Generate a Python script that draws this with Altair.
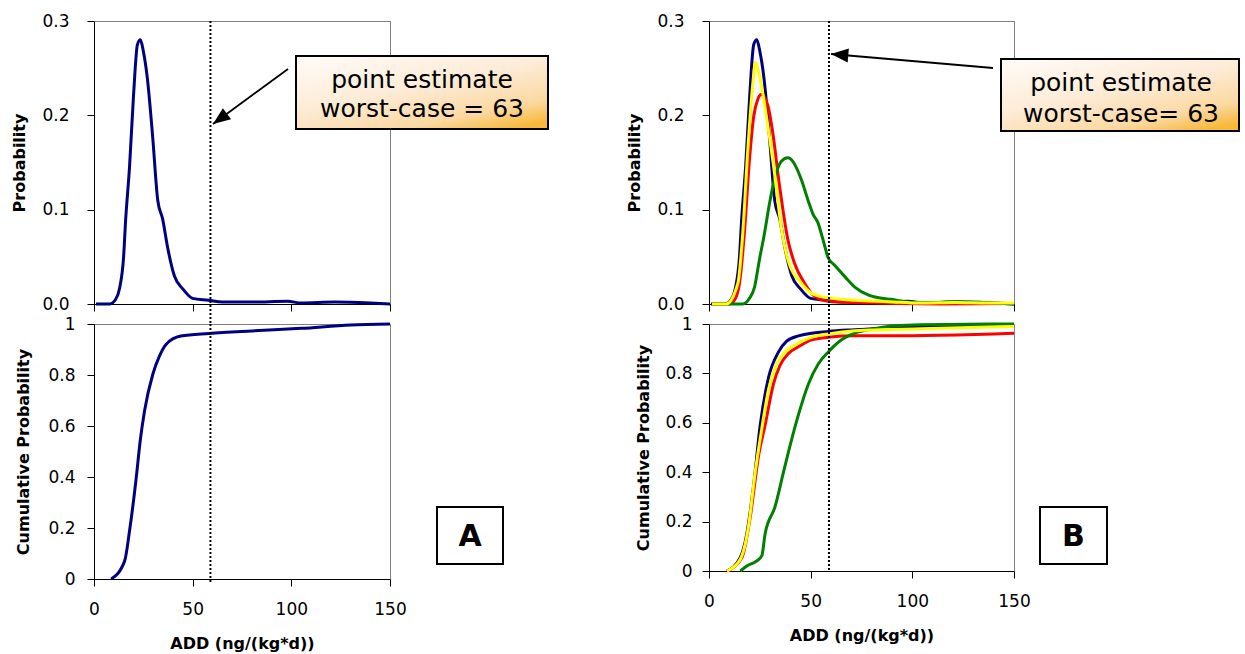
import altair as alt
import pandas as pd

# ---------------- data ----------------
X_TICKS = [0, 50, 100, 150]
PROB_TICKS = [0, 0.1, 0.2, 0.3]
CUM_TICKS = [0, 0.2, 0.4, 0.6, 0.8, 1]
POINT_ESTIMATE_X = 59
X_TITLE = "ADD (ng/(kg*d))"
BOX_LINE1 = "point estimate"
BOX_LINE2_A = "worst-case = 63"
BOX_LINE2_B = "worst-case= 63"

# base case (navy) probability density
navy_prob_x = [1, 8, 11, 13, 15, 16, 18, 20, 22, 23.5, 25, 27, 29.7, 32.3, 34.8, 37.3, 40.7, 45, 50, 58, 65, 80, 98, 105, 122, 140, 150]
navy_prob_y = [0, 0, 0.005, 0.017, 0.05, 0.088, 0.145, 0.22, 0.275, 0.28, 0.268, 0.24, 0.178, 0.11, 0.09, 0.06, 0.03, 0.016, 0.006, 0.004, 0.002, 0.002, 0.003, 0.001, 0.002, 0.001, 0]

# base case cumulative (panel A)
navy_cumA_x = [8.7, 15.5, 18, 21.4, 23.4, 25.6, 29.8, 33.2, 36.5, 44, 58.4, 80, 105, 130, 150]
navy_cumA_y = [0, 0.07, 0.188, 0.397, 0.541, 0.659, 0.803, 0.875, 0.92, 0.953, 0.963, 0.973, 0.983, 0.996, 1.0]

# panel B probability densities
yellow_prob_x = [1.5, 8.4, 14.2, 16.6, 19.1, 21.6, 22.8, 24.8, 29, 32.2, 35.5, 38.8, 45.4, 52, 58.6, 71.7, 88.2, 104.6, 121, 137.5, 150]
yellow_prob_y = [0, 0, 0.022, 0.075, 0.164, 0.235, 0.256, 0.242, 0.188, 0.139, 0.082, 0.047, 0.022, 0.0096, 0.0067, 0.004, 0.0025, 0.001, 0.0015, 0.001, 0.001]
red_prob_x = [1.5, 10, 12.5, 15, 17.4, 19.9, 22, 24, 25.7, 29, 31.4, 34.7, 38.8, 42.1, 47, 52, 58.6, 71.7, 114.5, 150]
red_prob_y = [0, 0, 0.004, 0.022, 0.075, 0.153, 0.199, 0.217, 0.222, 0.21, 0.181, 0.125, 0.068, 0.043, 0.022, 0.008, 0.003, 0.0015, 0, 0.0005]
green_prob_x = [1.5, 10.9, 16.6, 19.9, 22.4, 24.8, 27.3, 29.8, 32.2, 35.5, 38.8, 41.3, 45.4, 48.7, 51.2, 53.6, 56.1, 58.6, 61.8, 66.8, 71.7, 78.3, 84.9, 89.8, 96.4, 112.8, 121, 150]
green_prob_y = [0, 0, 0, 0.006, 0.018, 0.047, 0.075, 0.107, 0.132, 0.151, 0.155, 0.151, 0.132, 0.11, 0.095, 0.086, 0.068, 0.049, 0.041, 0.029, 0.018, 0.0096, 0.006, 0.005, 0.0025, 0.0015, 0.0025, 0]

# panel B cumulative
navy_cumB_x = [8.8, 15.4, 18.6, 21.9, 25.2, 29.3, 34.2, 38.2, 44, 58.7, 71.7, 104.4, 150]
navy_cumB_y = [0, 0.055, 0.151, 0.344, 0.591, 0.784, 0.887, 0.931, 0.952, 0.97, 0.977, 0.988, 0.997]
yellow_cum_x = [8.8, 15.4, 19.4, 22.7, 26, 29.3, 33.3, 37.4, 42.3, 48.9, 58.7, 71.7, 104.4, 150]
yellow_cum_y = [0, 0.048, 0.179, 0.399, 0.578, 0.736, 0.839, 0.887, 0.915, 0.942, 0.96, 0.973, 0.981, 0.99]
red_cum_x = [8.8, 16.2, 20.3, 24.4, 27.6, 31.7, 34.9, 39, 44, 50.5, 58.7, 71.7, 88.1, 150]
red_cum_y = [0, 0.055, 0.22, 0.468, 0.591, 0.757, 0.832, 0.88, 0.908, 0.936, 0.946, 0.952, 0.952, 0.963]
green_cum_x = [15.4, 18.6, 23.5, 26, 27.6, 32.5, 36.6, 39.9, 44, 48.9, 53.8, 58.7, 65.2, 71.7, 81.5, 91.3, 104.4, 150]
green_cum_y = [0, 0.02, 0.041, 0.062, 0.151, 0.261, 0.399, 0.509, 0.633, 0.757, 0.839, 0.887, 0.936, 0.963, 0.981, 0.993, 0.997, 1.0]

# ---------------- styling ----------------
FONT = "DejaVu Sans"
NAVY, RED, YELLOW, GREEN = "#000080", "#FF0000", "#FFFF00", "#008000"
WA, WB = 296, 305
H_TOP = 283
H_A_BOT, H_B_BOT = 255, 247
ROW_GAP = 20
COL_GAP = 319

one = pd.DataFrame({"v": [0]})
rule_df = pd.DataFrame({"x": [POINT_ESTIMATE_X]})

BOX_FILL = {
    "gradient": "linear", "x1": 0.15, "y1": 0, "x2": 0.85, "y2": 1,
    "stops": [
        {"offset": 0, "color": "#FFFAF4"},
        {"offset": 0.45, "color": "#FDEBD6"},
        {"offset": 0.8, "color": "#FBD8A0"},
        {"offset": 1, "color": "#F8B83A"},
    ],
}


def x_enc(bottom):
    common = dict(values=X_TICKS, tickSize=7, tickColor="black", domainColor="black",
                  grid=False, tickWidth=1)
    if bottom:
        axis = alt.Axis(title=X_TITLE, labelFont=FONT, labelFontSize=17, labelColor="black",
                        labelPadding=15, labelFlush=False, labelOverlap=False,
                        titleFont=FONT, titleFontSize=16, titleFontWeight="bold",
                        titleColor="black", titleY=64, titleBaseline="middle", **common)
    else:
        axis = alt.Axis(title=None, labels=False, **common)
    return alt.X("x:Q", scale=alt.Scale(domain=[0, 150], nice=False, zero=False), axis=axis)


def y_enc(top, label_pad, title_x, h):
    axis = alt.Axis(
        values=PROB_TICKS if top else CUM_TICKS,
        format=".1f" if top else "~g",
        title="Probability" if top else "Cumulative Probability",
        tickSize=7, tickColor="black", domainColor="black", grid=False,
        labelFont=FONT, labelFontSize=17, labelColor="black", labelPadding=label_pad,
        labelFlush=False, labelOverlap=False,
        titleFont=FONT, titleFontSize=16, titleFontWeight="bold", titleColor="black",
        titleX=title_x, titleY=h / 2, titleBaseline="middle",
    )
    dom = [0, 0.3] if top else [0, 1]
    return alt.Y("y:Q", scale=alt.Scale(domain=dom, nice=False, zero=False), axis=axis)


def line(xs, ys, color, xe, ye):
    df = pd.DataFrame({"x": xs, "y": ys})
    return alt.Chart(df).mark_line(color=color, strokeWidth=3, interpolate="monotone",
                                   clip=False).encode(x=xe, y=ye)


def dotted(xe, y2):
    return alt.Chart(rule_df).mark_rule(color="black", strokeWidth=2, strokeDash=[2, 2],
                                        clip=False).encode(
        x=xe, y=alt.value(0), y2=alt.value(y2))


def callout(bx0, by0, bx1, by1, tx, ty1, ty2, line2, ax0, ay0, ax1, ay1, angle):
    shaft = alt.Chart(one).mark_rule(color="black", strokeWidth=1.8).encode(
        x=alt.value(ax0), y=alt.value(ay0), x2=alt.value(ax1), y2=alt.value(ay1))
    head = alt.Chart(one).mark_point(shape="M0,0 L0.8,2 L-0.8,2 Z", filled=True,
                                     color="black", opacity=1, size=300,
                                     angle=angle).encode(
        x=alt.value(ax1), y=alt.value(ay1))
    box = alt.Chart(one).mark_rect(fill=BOX_FILL, stroke="black", strokeWidth=2).encode(
        x=alt.value(bx0), x2=alt.value(bx1), y=alt.value(by0), y2=alt.value(by1))
    t1 = alt.Chart(one).mark_text(font=FONT, fontSize=25, color="black", align="center",
                                  baseline="middle").encode(
        x=alt.value(tx), y=alt.value(ty1), text=alt.value(BOX_LINE1))
    t2 = alt.Chart(one).mark_text(font=FONT, fontSize=25, color="black", align="center",
                                  baseline="middle").encode(
        x=alt.value(tx), y=alt.value(ty2), text=alt.value(line2))
    return [shaft, head, box, t1, t2]


def letter_box(x0, y0, x1, y1, letter):
    box = alt.Chart(one).mark_rect(fill="white", stroke="black", strokeWidth=2).encode(
        x=alt.value(x0), x2=alt.value(x1), y=alt.value(y0), y2=alt.value(y1))
    txt = alt.Chart(one).mark_text(font=FONT, fontSize=30, fontWeight="bold", color="black",
                                   align="center", baseline="middle").encode(
        x=alt.value((x0 + x1) / 2), y=alt.value((y0 + y1) / 2 + 1), text=alt.value(letter))
    return [box, txt]


# ---------------- panel A ----------------
xa_t, ya_t = x_enc(False), y_enc(True, 18, -75, H_TOP)
anchor = alt.Chart(one).mark_rect(color="white").encode(
    x=alt.value(-93), x2=alt.value(-92), y=alt.value(-20), y2=alt.value(-19))
a_top = alt.layer(
    anchor,
    line(navy_prob_x, navy_prob_y, NAVY, xa_t, ya_t),
    dotted(xa_t, H_TOP + ROW_GAP),
    *callout(202, 35, 454, 108, 328, 59, 88, BOX_LINE2_A, 194, 48, 119, 103, 233.7),
).properties(width=WA, height=H_TOP)

xa_b, ya_b = x_enc(True), y_enc(False, 12, -71, H_A_BOT)
a_bot = alt.layer(
    line(navy_cumA_x, navy_cumA_y, NAVY, xa_b, ya_b),
    dotted(xa_b, H_A_BOT + 4),
    *letter_box(343, 183, 409, 240, "A"),
).properties(width=WA, height=H_A_BOT)

# ---------------- panel B ----------------
xb_t, yb_t = x_enc(False), y_enc(True, 18, -75, H_TOP)
b_top = alt.layer(
    line(navy_prob_x, navy_prob_y, NAVY, xb_t, yb_t),
    line(red_prob_x, red_prob_y, RED, xb_t, yb_t),
    line(green_prob_x, green_prob_y, GREEN, xb_t, yb_t),
    line(yellow_prob_x, yellow_prob_y, YELLOW, xb_t, yb_t),
    dotted(xb_t, H_TOP + ROW_GAP),
    *callout(292, 38, 530, 110, 412, 62, 93, BOX_LINE2_B, 284, 47, 122, 33, 274.9),
).properties(width=WB, height=H_TOP)

xb_b, yb_b = x_enc(True), y_enc(False, 10, -66, H_B_BOT)
b_bot = alt.layer(
    line(navy_cumB_x, navy_cumB_y, NAVY, xb_b, yb_b),
    line(red_cum_x, red_cum_y, RED, xb_b, yb_b),
    line(green_cum_x, green_cum_y, GREEN, xb_b, yb_b),
    line(yellow_cum_x, yellow_cum_y, YELLOW, xb_b, yb_b),
    dotted(xb_b, H_B_BOT),
    *letter_box(331, 183, 398, 240, "B"),
).properties(width=WB, height=H_B_BOT)

chart = alt.concat(
    a_top, b_top, a_bot, b_bot,
    columns=2,
    spacing={"row": ROW_GAP, "column": COL_GAP},
    bounds="flush",
    align="each",
).properties(padding=0, background="white").configure_view(
    stroke="#808080", strokeWidth=1
)

chart.save("out.html", embed_options={"renderer": "svg", "actions": False})
